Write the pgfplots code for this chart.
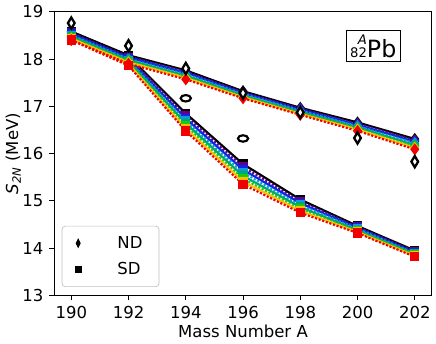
\documentclass[border=0pt]{standalone}
\usepackage{fontspec}
\setmainfont{DejaVu Sans}
\usepackage{pgfplots}
\usepackage{pgfplotstable}
\pgfplotsset{compat=1.18}

% columns n0..n7 : ND curves (black -> red), s0..s7 : SD curves
\pgfplotstableread{
A   n0    n1    n2    n3    n4    n5    n6    n7    s0    s1    s2    s3    s4    s5    s6    s7
190 18.58 18.55 18.53 18.50 18.48 18.45 18.43 18.40 18.58 18.55 18.53 18.50 18.48 18.45 18.43 18.40
192 18.08 18.05 18.03 18.00 17.98 17.95 17.93 17.90 18.06 18.03 18.00 17.97 17.95 17.92 17.89 17.86
194 17.76 17.73 17.71 17.68 17.65 17.62 17.60 17.57 16.85 16.80 16.74 16.69 16.64 16.59 16.53 16.48
196 17.32 17.30 17.28 17.26 17.23 17.21 17.19 17.17 15.78 15.72 15.66 15.60 15.53 15.47 15.41 15.35
198 16.97 16.95 16.93 16.91 16.88 16.86 16.84 16.82 15.03 14.99 14.95 14.91 14.87 14.83 14.79 14.75
200 16.66 16.63 16.61 16.58 16.56 16.53 16.51 16.48 14.47 14.45 14.43 14.41 14.38 14.36 14.34 14.32
202 16.31 16.28 16.25 16.22 16.18 16.15 16.12 16.09 13.95 13.93 13.91 13.89 13.88 13.86 13.84 13.82
}\curves

\pgfplotstableread{
A   y
190 18.76
192 18.28
194 17.80
196 17.28
198 16.87
200 16.33
202 15.83
}\expdiam

\pgfplotstableread{
A   y
194 17.17
196 16.32
}\expoval

\definecolor{c0}{rgb}{0,0,0}
\definecolor{c1}{rgb}{0.40,0,0.55}
\definecolor{c2}{rgb}{0.05,0.15,0.90}
\definecolor{c3}{rgb}{0.05,0.60,0.87}
\definecolor{c4}{rgb}{0,0.65,0.45}
\definecolor{c5}{rgb}{0.10,0.80,0.05}
\definecolor{c6}{rgb}{1.00,0.75,0}
\definecolor{c7}{rgb}{0.95,0,0}

\pgfplotsset{
  s0/.style={c0, solid},
  s1/.style={c1, densely dotted},
  s2/.style={c2, solid},
  s3/.style={c3, densely dotted},
  s4/.style={c4, solid},
  s5/.style={c5, densely dotted},
  s6/.style={c6, solid},
  s7/.style={c7, densely dotted},
}

\begin{document}
\begin{tikzpicture}
\begin{axis}[
  scale only axis,
  width=229pt,
  height=172pt,
  xmin=189.4, xmax=202.6,
  ymin=13, ymax=19,
  xtick={190,192,...,202},
  ytick={13,...,19},
  tick align=outside,
  xtick pos=left,
  ytick pos=left,
  major tick length=3pt,
  tick style={black, line width=0.5pt},
  axis line style={line width=0.6pt},
  /pgf/number format/assume math mode=true,
  /pgf/number format/1000 sep={},
  xlabel={Mass Number A},
  ylabel={\textit{S}\textsubscript{\textit{2N}} (MeV)},
  xlabel style={yshift=3pt},
  ylabel style={yshift=-6pt},
  legend style={at={(0.02,0.03)}, anchor=south west, draw=gray!50,
    rounded corners=2pt, row sep=3pt, inner xsep=8pt, inner ysep=4pt,
    font=\normalsize},
  legend cell align=left,
]
\pgfplotsinvokeforeach{0,...,7}{
  \addplot[s#1, line width=1.3pt, mark=square*, mark size=2.2pt,
    mark options={solid}, forget plot] table[x=A, y=s#1]{\curves};
  \addplot[s#1, line width=1.3pt, mark=diamond*, mark size=2.6pt,
    mark options={solid}, forget plot] table[x=A, y=n#1]{\curves};
}
\addplot[only marks, mark=diamond*, mark size=3.4pt,
  mark options={fill=white, draw=black, line width=1.4pt, xscale=0.8},
  forget plot] table[x=A, y=y]{\expdiam};
\addplot[only marks, mark=*, mark size=2.3pt,
  mark options={fill=white, draw=black, line width=1.3pt, xscale=1.35, yscale=0.85},
  forget plot] table[x=A, y=y]{\expoval};

\addlegendimage{only marks, mark=diamond*, black, mark size=2.6pt, mark options={xscale=0.65}}
\addlegendentry{\qquad ND}
\addlegendimage{only marks, mark=square*, black, mark size=1.8pt}
\addlegendentry{\qquad SD}

\node[draw=black, line width=0.6pt, inner sep=2.5pt, anchor=north east]
  at (rel axis cs:0.918,0.935)
  {\shortstack[r]{\footnotesize\textit{A}\\[-1pt]\footnotesize 82}\Large Pb};
\end{axis}
\end{tikzpicture}
\end{document}
